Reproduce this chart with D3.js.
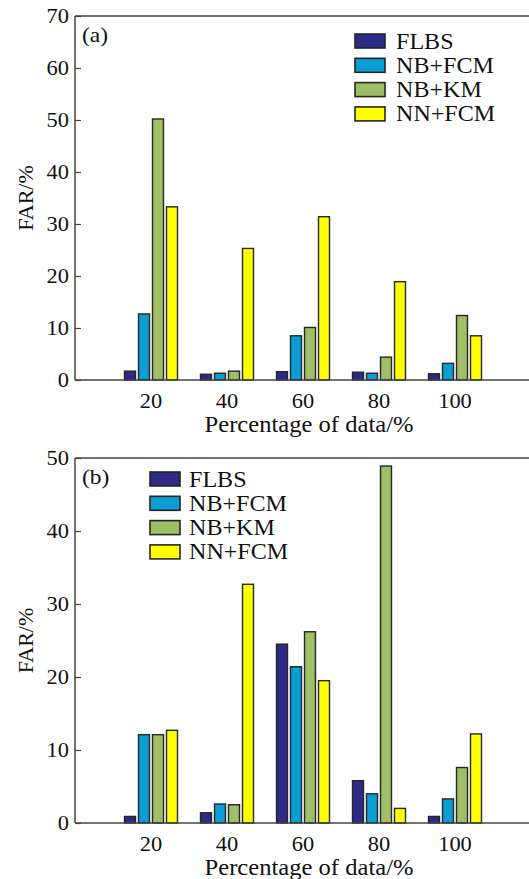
<!DOCTYPE html>
<html>
<head>
<meta charset="utf-8">
<script src="https://cdn.jsdelivr.net/npm/d3@7"></script>
<style>
  html, body { margin: 0; padding: 0; background: #fff; }
  svg { display: block; }
</style>
</head>
<body>
<svg id="chart" width="529" height="879"></svg>
<script>
// ---------- data ----------
const categories = [20, 40, 60, 80, 100];
const seriesNames = ["FLBS", "NB+FCM", "NB+KM", "NN+FCM"];
const seriesColors = ["#2e2a88", "#0b9dd4", "#9fbe66", "#ffff00"];

// Panel (a)
const aFLBS  = [1.7, 1.1, 1.6, 1.5, 1.2];
const aNBFCM = [12.7, 1.3, 8.5, 1.3, 3.2];
const aNBKM  = [50.2, 1.7, 10.1, 4.4, 12.4];
const aNNFCM = [33.3, 25.3, 31.4, 18.9, 8.5];
const aTicks = [0, 10, 20, 30, 40, 50, 60, 70];

// Panel (b)
const bFLBS  = [0.9, 1.4, 24.5, 5.8, 0.9];
const bNBFCM = [12.1, 2.6, 21.4, 4.0, 3.3];
const bNBKM  = [12.1, 2.5, 26.2, 48.9, 7.6];
const bNNFCM = [12.7, 32.7, 19.5, 2.0, 12.2];
const bTicks = [0, 10, 20, 30, 40, 50];

const xLabel = "Percentage of data/%";
const yLabel = "FAR/%";

// ---------- drawing ----------
const FONT = "'Liberation Serif', 'Times New Roman', Times, 'DejaVu Serif', serif";
const svg = d3.select("#chart").attr("font-family", FONT);
const W = 529;
const x = d3.scaleLinear().domain([0, 120]).range([75, 531]);
const barW = 11, barStep = 14;
const SX = 1.07; // slight horizontal stretch of the reference's type

function txt(sel) {
  return sel.attr("font-family", FONT).attr("fill", "#111");
}
function place(sel, tx, ty, extra) {
  return sel.attr("transform", `translate(${tx},${ty}) ${extra || ""} scale(${SX},1)`);
}

function panel(cfg) {
  const g = svg.append("g");
  const y = d3.scaleLinear().domain([0, cfg.yMax]).range([cfg.bottom, cfg.top]);
  const series = cfg.values;

  // bars
  series.forEach((vals, si) => {
    g.append("g").selectAll("rect")
      .data(vals.map((v, i) => ({ c: categories[i], v })))
      .join("rect")
      .attr("x", d => x(d.c) + (si - 1.5) * barStep - barW / 2)
      .attr("y", d => y(d.v))
      .attr("width", barW)
      .attr("height", d => y(0) - y(d.v))
      .attr("fill", seriesColors[si])
      .attr("stroke", "#262626")
      .attr("stroke-width", 1.4);
  });

  // y axis (inward ticks)
  const yAxis = d3.axisRight(y).tickValues(cfg.ticks).tickSize(6).tickFormat("");
  const ya = g.append("g").attr("transform", `translate(${x(0)},0)`).call(yAxis);
  ya.select(".domain").remove();
  ya.selectAll(".tick line").attr("stroke", "#444").attr("stroke-width", 1.2);
  g.append("g").selectAll("text").data(cfg.ticks).join("text")
    .call(txt)
    .each(function (d) { place(d3.select(this), 69, y(d)); })
    .attr("dy", "0.35em")
    .attr("text-anchor", "end").attr("font-size", 21).text(d => d);

  // frame lines: left, top, bottom
  g.append("line").attr("x1", x(0)).attr("x2", x(0)).attr("y1", y(cfg.yMax)).attr("y2", y(0))
    .attr("stroke", "#444").attr("stroke-width", 1.5);
  g.append("line").attr("x1", x(0)).attr("x2", W).attr("y1", y(cfg.yMax)).attr("y2", y(cfg.yMax))
    .attr("stroke", "#444").attr("stroke-width", 1.5);
  g.append("line").attr("x1", x(0)).attr("x2", W).attr("y1", y(0)).attr("y2", y(0))
    .attr("stroke", "#444").attr("stroke-width", 1.5);

  // x tick labels
  g.append("g").selectAll("text").data(categories).join("text")
    .call(txt)
    .each(function (d) { place(d3.select(this), x(d), y(0) + 28); })
    .attr("text-anchor", "middle").attr("font-size", 21).text(d => d);

  // axis titles
  g.append("text").call(txt).call(place, 309, y(0) + 52)
    .attr("text-anchor", "middle").attr("font-size", 23).text(xLabel);
  g.append("text").call(txt)
    .attr("transform", `translate(33,${(y(0) + y(cfg.yMax)) / 2}) rotate(-90)`)
    .attr("text-anchor", "middle").attr("font-size", 22).text(yLabel);

  // panel tag
  g.append("text").call(txt).call(place, 82, y(cfg.yMax) + 26)
    .attr("font-size", 22).text(cfg.tag);

  // legend
  const lg = g.append("g").attr("transform", `translate(${cfg.legX},${cfg.legY})`);
  seriesNames.forEach((name, i) => {
    lg.append("rect").attr("x", 0).attr("y", i * 24.3).attr("width", 30).attr("height", 14)
      .attr("fill", seriesColors[i]).attr("stroke", "#262626").attr("stroke-width", 1.6);
    lg.append("text").call(txt).call(place, cfg.legTextDx, i * 24.3 + 14.5)
      .attr("font-size", 22.5).text(name);
  });
}

panel({ top: 16, bottom: 380, yMax: 70, ticks: aTicks, tag: "(a)",
        values: [aFLBS, aNBFCM, aNBKM, aNNFCM], legX: 355, legY: 34, legTextDx: 41 });
panel({ top: 458, bottom: 823, yMax: 50, ticks: bTicks, tag: "(b)",
        values: [bFLBS, bNBFCM, bNBKM, bNNFCM], legX: 150, legY: 472, legTextDx: 39 });
</script>
</body>
</html>
